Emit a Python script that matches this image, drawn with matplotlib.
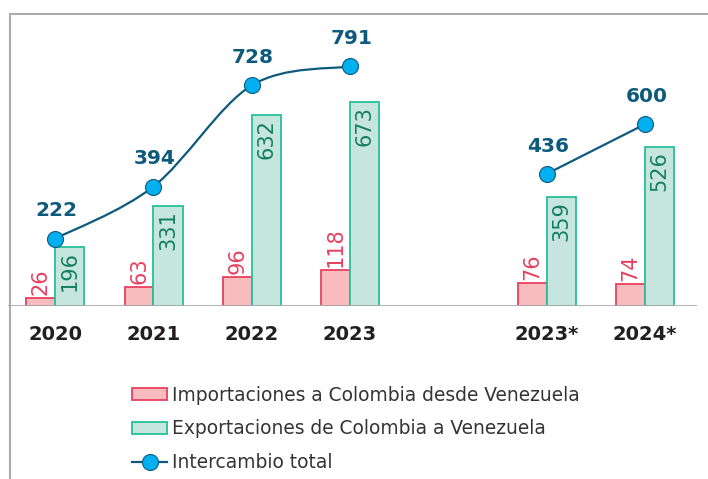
import numpy as np
import matplotlib.pyplot as plt
from matplotlib.path import Path
from matplotlib.patches import PathPatch
from matplotlib.lines import Line2D

years = ["2020", "2021", "2022", "2023", "2023*", "2024*"]
slots = [0, 1, 2, 3, 5, 6]
imports = [26, 63, 96, 118, 76, 74]
exports = [196, 331, 632, 673, 359, 526]
total = [222, 394, 728, 791, 436, 600]
segments = [[0, 1, 2, 3], [4, 5]]

pink_fill = "#f9bcbe"
pink_edge = "#e8405f"
green_fill = "#c6e5df"
green_edge = "#26c09a"
green_text = "#13805f"
line_col = "#0d5a7d"
marker_col = "#00b0f0"
gray = "#ababab"

W, H = 708, 479
fig = plt.figure(figsize=(W / 100, H / 100), dpi=100)
ax = fig.add_axes([8 / W, 173 / H, (697 - 8) / W, (465 - 173) / H])
ax.set_xlim((8 - 55) / 98.33, (697 - 55) / 98.33)
ax.set_ylim(0, 292 / 0.303)
for s in ax.spines.values():
    s.set_visible(False)
ax.set_yticks([])

xs = np.array(slots, dtype=float)
ax.bar(xs - 0.29, imports, width=0.29, align="edge", color=pink_fill,
       edgecolor=pink_edge, linewidth=1.3, zorder=2)
ax.bar(xs, exports, width=0.30, align="edge", color=green_fill,
       edgecolor=green_edge, linewidth=1.3, zorder=2)
ax.axhline(0, color=gray, lw=2, zorder=3)

for x, v in zip(xs, imports):
    ax.annotate(str(v), (x - 0.145, v), xytext=(0, 2), textcoords="offset points",
                rotation=90, ha="center", va="bottom", fontsize=15, color=pink_edge)
for x, v in zip(xs, exports):
    ax.annotate(str(v), (x + 0.15, v), xytext=(0, -3), textcoords="offset points",
                rotation=90, ha="center", va="top", fontsize=15, color=green_text)

# smoothed line (Catmull-Rom style bezier, like a spreadsheet "smoothed line")
for seg in segments:
    px = xs[seg]
    py = np.array([total[i] for i in seg], dtype=float)
    pts = np.column_stack([px, py])
    if len(pts) > 2:
        verts = [pts[0]]
        codes = [Path.MOVETO]
        n = len(pts)
        for i in range(n - 1):
            p_prev = pts[i - 1] if i > 0 else pts[i]
            p_next2 = pts[i + 2] if i + 2 < n else pts[i + 1]
            c1 = pts[i] + (pts[i + 1] - p_prev) / 6
            c2 = pts[i + 1] - (p_next2 - pts[i]) / 6
            verts += [c1, c2, pts[i + 1]]
            codes += [Path.CURVE4] * 3
        ax.add_patch(PathPatch(Path(verts, codes), facecolor="none",
                               edgecolor=line_col, lw=1.6, zorder=4))
    else:
        ax.plot(px, py, color=line_col, lw=1.6, zorder=4)
    ax.plot(px, py, linestyle="none", marker="o", ms=11.5, mfc=marker_col,
            mec=line_col, mew=0.8, zorder=5)

for x, v in zip(xs, total):
    ax.annotate(str(v), (x, v), xytext=(1, 20), textcoords="offset points",
                ha="center", va="center", fontsize=14.5, fontweight="bold",
                color=line_col)

ax.set_xticks(xs)
ax.set_xticklabels(years, fontsize=14, fontweight="bold", color="#231f20")
ax.tick_params(axis="x", length=0, pad=14)

# frame lines
fig.add_artist(Line2D([10 / W, 10 / W], [0, 1 - 14 / H], color=gray, lw=1.5))
fig.add_artist(Line2D([10 / W, 1], [1 - 14 / H, 1 - 14 / H], color=gray, lw=1.5))

handles = [
    plt.Rectangle((0, 0), 1, 1, facecolor=pink_fill, edgecolor=pink_edge, lw=1.3),
    plt.Rectangle((0, 0), 1, 1, facecolor=green_fill, edgecolor=green_edge, lw=1.3),
    Line2D([], [], color=line_col, lw=1.6, marker="o", ms=11.5, mfc=marker_col,
           mec=line_col, mew=0.8),
]
labels = ["Importaciones a Colombia desde Venezuela",
          "Exportaciones de Colombia a Venezuela",
          "Intercambio total"]
fig.legend(handles, labels, loc="center left", bbox_to_anchor=(132 / W, 1 - 429 / H),
           frameon=False, fontsize=13.4, handlelength=1.9, handleheight=0.65,
           handletextpad=0.25, labelspacing=0.8, borderpad=0, borderaxespad=0,
           labelcolor="#333333")

fig.savefig("out.png", dpi=100)
